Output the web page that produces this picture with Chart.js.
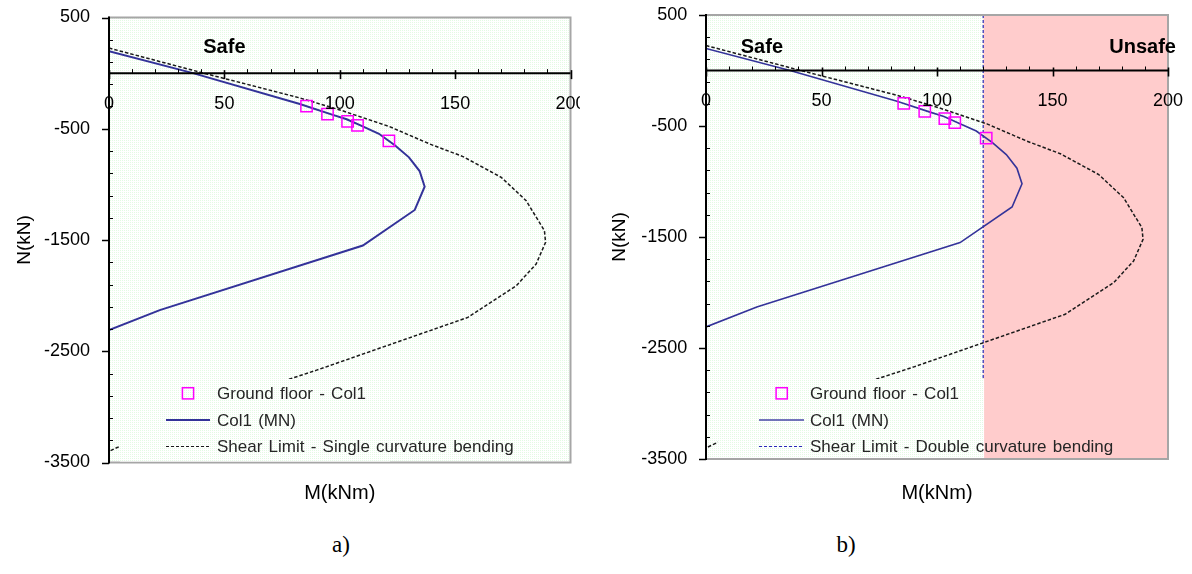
<!DOCTYPE html>
<html>
<head>
<meta charset="utf-8">
<script src="https://cdn.jsdelivr.net/npm/chart.js@4.4.1/dist/chart.umd.min.js"></script>
<style>
  html, body { margin:0; padding:0; background:#fff; width:1192px; height:574px; overflow:hidden; position:relative; }
  #wa { position:absolute; left:0; top:0; width:580px; height:520px; }
  #wb { position:absolute; left:600px; top:0; width:592px; height:520px; }
  .cap { position:absolute; top:532px; width:60px; text-align:center; line-height:26px;
         font-family:'Liberation Serif','Times New Roman',serif; font-size:23px; color:#000; }
</style>
</head>
<body>
<div id="wa"><canvas id="ca" width="580" height="520"></canvas></div>
<div id="wb"><canvas id="cb" width="592" height="520"></canvas></div>
<div class="cap" style="left:311px">a)</div>
<div class="cap" style="left:816px">b)</div>
<script>
// ---------------- data ----------------
const M_COL1 = [0, 36.4, 82.7, 97, 103, 109, 117, 124, 130, 134.6, 136.8, 132.5, 110, 22, 0];
const N_COL1 = [198, 0, -277, -375, -415, -470, -545, -650, -757, -880, -1020, -1230, -1550, -2130, -2310];

const M_GROUND = [85.6, 94.7, 103.4, 107.7, 121.3];
const N_GROUND = [-297, -369, -434, -470, -609];

const M_SHEAR = [0, 41, 82.7, 101, 121.6, 139, 153.4, 170, 180.8, 188.7, 189.2, 185.1, 176.5, 155.5, 90, 40, 0];
const N_SHEAR = [225, 0, -223, -337, -481, -637, -750, -937, -1147, -1416, -1521, -1716, -1911, -2196, -2670, -3010, -3400];

const M_DOUBLE = [120, 120];
const N_DOUBLE = [500, -3500];

const M_UNSAFE = [120, 200];
const N_UNSAFE = [500, 500];

const X_TICKS = [0, 50, 100, 150, 200];
const Y_TICKS = [500, -500, -1500, -2500, -3500];

const X_MIN = 0, X_MAX = 200, Y_MIN = -3500, Y_MAX = 500;

// ---------------- helpers ----------------
const FONT = "'Liberation Sans', Arial, Helvetica, sans-serif";
const pts = (xs, ys) => xs.map((v, i) => ({ x: v, y: ys[i] }));

function greenPattern(ctx) {
  const pc = document.createElement('canvas');
  pc.width = 2; pc.height = 2;
  const g = pc.getContext('2d');
  g.fillStyle = '#ffffff'; g.fillRect(0, 0, 2, 2);
  g.fillStyle = '#e3fae3'; g.fillRect(0, 0, 1, 1);
  return ctx.createPattern(pc, 'repeat');
}

function seg(ctx, x1, y1, x2, y2) {
  ctx.beginPath(); ctx.moveTo(x1, y1); ctx.lineTo(x2, y2); ctx.stroke();
}

function decoPlugin(cfg) {
  return {
    id: 'deco',
    beforeDraw(chart) {
      const { ctx, chartArea: a } = chart;
      ctx.save();
      ctx.fillStyle = '#ffffff';
      ctx.fillRect(0, 0, chart.width, chart.height);
      ctx.fillStyle = greenPattern(ctx);
      ctx.fillRect(a.left, a.top, a.right - a.left, a.bottom - a.top);
      ctx.restore();
    },
    afterDatasetsDraw(chart) {
      const { ctx, chartArea: a, scales } = chart;
      const x = scales.x, y = scales.y;
      ctx.save();
      // plot border
      ctx.strokeStyle = '#a6a6a6'; ctx.lineWidth = 2;
      ctx.strokeRect(a.left, a.top, a.right - a.left, a.bottom - a.top);
      // vertical axis
      ctx.strokeStyle = '#000'; ctx.lineWidth = 2;
      seg(ctx, a.left, a.top - 1, a.left, a.bottom + 1);
      ctx.lineWidth = 1.5;
      for (const v of Y_TICKS) {
        const py = Math.round(y.getPixelForValue(v)) + 0.5;
        seg(ctx, a.left - 7, py, a.left, py);
      }
      ctx.lineWidth = 1;
      for (let v = Y_MAX; v >= Y_MIN; v -= 200) {
        if (Y_TICKS.includes(v)) continue;
        const py = Math.round(y.getPixelForValue(v)) + 0.5;
        seg(ctx, a.left, py, a.left + 4, py);
      }
      // horizontal axis at N = 0
      const y0 = y.getPixelForValue(0);
      ctx.lineWidth = 2;
      seg(ctx, a.left, y0, a.right, y0);
      for (let m = X_MIN; m <= X_MAX; m += 10) {
        const px = Math.round(x.getPixelForValue(m)) + 0.5;
        if (m % 50 === 0) { ctx.lineWidth = 1.6; seg(ctx, px, y0 - 3, px, y0 + 6); }
        else { ctx.lineWidth = 1; seg(ctx, px, y0 - 4, px, y0); }
      }
      // legend box (opaque, same fill as plot area)
      const L = cfg.legend;
      const bx1 = a.left + L.box[0], bx2 = a.left + L.box[1];
      const by1 = L.boxTop, by2 = a.bottom - 1;
      ctx.fillStyle = greenPattern(ctx);
      ctx.fillRect(bx1, by1, bx2 - bx1, by2 - by1);
      ctx.font = '17px ' + FONT;
      ctx.textAlign = 'left';
      ctx.textBaseline = 'middle';
      try { ctx.wordSpacing = '1.5px'; } catch (e) {}
      L.entries.forEach((e, i) => {
        const ry = L.rows[i];
        if (e.kind === 'marker') {
          ctx.strokeStyle = '#ff00ff'; ctx.lineWidth = 1.5; ctx.setLineDash([]);
          const cx = a.left + L.marker;
          ctx.strokeRect(cx - 5.6, ry - 5.6, 11.2, 11.2);
        } else {
          ctx.strokeStyle = e.color; ctx.lineWidth = e.width; ctx.setLineDash(e.dash);
          seg(ctx, a.left + L.line[0], ry, a.left + L.line[1], ry);
          ctx.setLineDash([]);
        }
        ctx.fillStyle = '#262626';
        ctx.fillText(e.text, a.left + L.text, ry + 1);
      });
      // zone labels
      ctx.font = 'bold 20px ' + FONT;
      ctx.fillStyle = '#000';
      ctx.textAlign = 'center';
      cfg.zones.forEach(z => {
        ctx.fillText(z.text, x.getPixelForValue(z.m), y.getPixelForValue(z.n));
      });
      ctx.restore();
    }
  };
}

function makeChart(id, cfg, datasets) {
  return new Chart(document.getElementById(id), {
    type: 'scatter',
    data: { datasets },
    options: {
      responsive: false,
      animation: false,
      events: [],
      layout: { padding: cfg.pad },
      plugins: { legend: { display: false }, tooltip: { enabled: false } },
      scales: {
        x: {
          type: 'linear', min: X_MIN, max: X_MAX, position: { y: 0 },
          afterBuildTicks: s => { s.ticks = X_TICKS.map(v => ({ value: v })); },
          afterFit: s => { s.paddingLeft = 0; s.paddingRight = 0; },
          grid: { display: false, drawTicks: false },
          border: { display: false },
          ticks: { z: 2, color: '#000', font: { family: FONT, size: 18 }, padding: 20, maxRotation: 0, autoSkip: false,
                   callback: v => String(v) }
        },
        xt: {
          type: 'linear', min: X_MIN, max: X_MAX, position: 'bottom', display: true,
          afterFit: s => { s.height = cfg.xh; s.paddingLeft = 0; s.paddingRight = 0; },
          grid: { display: false, drawTicks: false },
          border: { display: false },
          ticks: { display: false },
          title: { display: true, text: 'M(kNm)', color: '#000', font: { family: FONT, size: 20 }, padding: { top: 0, bottom: 15 } }
        },
        y: {
          type: 'linear', min: Y_MIN, max: Y_MAX, position: 'left',
          afterBuildTicks: s => { s.ticks = Y_TICKS.map(v => ({ value: v })); },
          afterFit: s => { s.width = cfg.yw; s.paddingTop = 0; s.paddingBottom = 0; },
          grid: { display: false, drawTicks: false },
          border: { display: false },
          ticks: { z: 2, color: '#000', font: { family: FONT, size: 18 }, padding: cfg.tickPad, autoSkip: false,
                   callback: v => String(v) },
          title: { display: true, text: 'N(kN)', color: '#000', font: { family: FONT, size: 19 }, padding: { top: cfg.titlePad, bottom: 0 } }
        }
      }
    },
    plugins: [decoPlugin(cfg)]
  });
}

const groundDs = () => ({
  label: 'Ground floor - Col1', data: pts(M_GROUND, N_GROUND), showLine: false,
  pointStyle: 'rect', pointRadius: 8, pointBorderWidth: 1.5,
  pointBorderColor: '#ff00ff', pointBackgroundColor: 'rgba(0,0,0,0)',
  borderColor: '#ff00ff', backgroundColor: 'rgba(0,0,0,0)'
});
const col1Ds = (w) => ({
  label: 'Col1 (MN)', data: pts(M_COL1, N_COL1), showLine: true, fill: false, tension: 0,
  borderColor: '#333399', borderWidth: w, pointRadius: 0
});
const shearDs = () => ({
  label: 'Shear Limit', data: pts(M_SHEAR, N_SHEAR), showLine: true, fill: false, tension: 0,
  borderColor: '#1a1a1a', borderWidth: 1.5, borderDash: [3.5, 2], pointRadius: 0
});

// ---------------- chart a) ----------------
const CFG_A = {
  pad: { top: 17.5, right: 9, bottom: 0, left: 0 },
  yw: 109, xh: 57.5, tickPad: 19, titlePad: 13.6,
  legend: {
    box: [11, 281], boxTop: 379, marker: 79, line: [57, 101], text: 108,
    rows: [393.3, 420, 446.5],
    entries: [
      { kind: 'marker', text: 'Ground floor - Col1' },
      { kind: 'line', color: '#333399', width: 2.2, dash: [], text: 'Col1 (MN)' },
      { kind: 'line', color: '#1a1a1a', width: 1.2, dash: [3, 2], text: 'Shear Limit - Single curvature bending' }
    ]
  },
  zones: [{ text: 'Safe', m: 50, n: 232 }]
};
makeChart('ca', CFG_A, [groundDs(), col1Ds(2), shearDs()]);

// ---------------- chart b) ----------------
const CFG_B = {
  pad: { top: 15, right: 24, bottom: 0, left: 0 },
  yw: 106, xh: 61, tickPad: 18.7, titlePad: 8.6,
  legend: {
    box: [12, 278.1], boxTop: 379, marker: 75.7, line: [53, 98], text: 104,
    rows: [393.3, 420, 446.5],
    entries: [
      { kind: 'marker', text: 'Ground floor - Col1' },
      { kind: 'line', color: '#4646a6', width: 1.3, dash: [], text: 'Col1 (MN)' },
      { kind: 'line', color: '#2a2ab8', width: 1.2, dash: [3, 2], text: 'Shear Limit - Double curvature bending' }
    ]
  },
  zones: [{ text: 'Safe', m: 24.2, n: 205 }, { text: 'Unsafe', m: 189, n: 205 }]
};
makeChart('cb', CFG_B, [
  groundDs(), col1Ds(1.6), shearDs(),
  { label: 'Shear Limit - Double curvature bending', data: pts(M_DOUBLE, N_DOUBLE), showLine: true, fill: false,
    borderColor: '#2a2ab8', borderWidth: 1.2, borderDash: [3, 2], pointRadius: 0 },
  { label: 'Unsafe', data: pts(M_UNSAFE, N_UNSAFE), showLine: true, fill: 'start',
    backgroundColor: '#ffcccc', borderColor: 'rgba(0,0,0,0)', borderWidth: 0, pointRadius: 0 }
]);
</script>
</body>
</html>
